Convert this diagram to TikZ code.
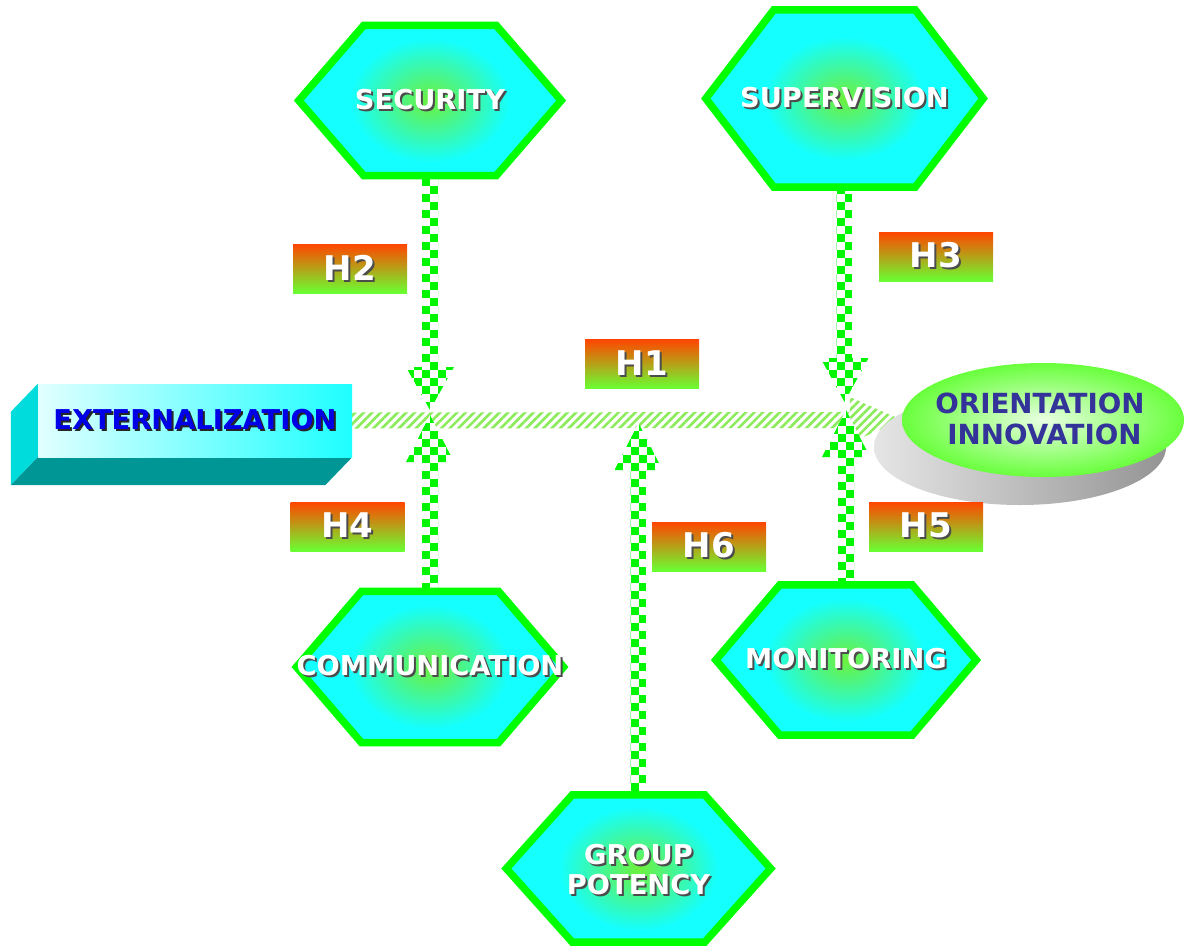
\documentclass[tikz,border=0pt]{standalone}
\usepackage{fontspec}
\setmainfont{DejaVu Sans}
\usetikzlibrary{calc,patterns,patterns.meta,shapes.geometric}
\definecolor{hexline}{RGB}{0,255,0}
\definecolor{hexcyan}{RGB}{20,255,255}
\definecolor{hexcore}{RGB}{110,240,60}
\definecolor{hred}{RGB}{255,70,0}
\definecolor{hgreen}{RGB}{105,255,50}
\definecolor{chkgreen}{RGB}{0,245,0}
\definecolor{stripegreen}{RGB}{140,235,90}
\definecolor{extblue}{RGB}{0,0,230}
\definecolor{extcyan}{RGB}{30,255,255}
\definecolor{extlight}{RGB}{225,255,255}
\definecolor{extside}{RGB}{0,220,220}
\definecolor{extbottom}{RGB}{0,150,150}
\definecolor{oritext}{RGB}{51,51,153}
\definecolor{origreen}{RGB}{105,255,60}

\pgfdeclarelayer{bglayer}
\pgfdeclarelayer{arrowlayer}
\pgfdeclarelayer{shapelayer}
\pgfsetlayers{bglayer,arrowlayer,shapelayer,main}

\newcommand{\shd}[2][black!70]{\leavevmode\rlap{\kern2pt\raisebox{-2pt}{\textcolor{#1}{#2}}}#2}

\newcommand{\hexagonal}[2]{%
  \path[fill=hexcyan] (#1.west) -- ($(#1.north west)+(#2,0)$) -- ($(#1.north east)+(-#2,0)$) -- (#1.east)
    -- ($(#1.south east)+(-#2,0)$) -- ($(#1.south west)+(#2,0)$) -- cycle;
  \shade[inner color=hexcore, outer color=hexcyan] (#1.center) ellipse [x radius=80pt, y radius=62pt];
  \path[hexshape] (#1.west) -- ($(#1.north west)+(#2,0)$) -- ($(#1.north east)+(-#2,0)$) -- (#1.east)
    -- ($(#1.south east)+(-#2,0)$) -- ($(#1.south west)+(#2,0)$) -- cycle;}

\newcommand{\chkarrow}[3]{%
  \begin{scope}
    \path[clip] ($(#1)+(-8,0)$) -- ($(#2)+(-8,#3)$) -- ($(#2)+(-24,#3)$) -- (#2)
      -- ($(#2)+(24,#3)$) -- ($(#2)+(8,#3)$) -- ($(#1)+(8,0)$) -- cycle;
    \fill[white] ($(#2)+(-30,-420)$) rectangle ($(#2)+(30,420)$);
    \foreach \cc in {-3,...,2}{
      \foreach \kk in {-52,...,52}{
        \pgfmathtruncatemacro\chkpar{mod(\cc+\kk+200,2)}
        \ifnum\chkpar=0
          \fill[chkgreen] ($(#2)+(8*\cc,8*\kk)$) rectangle ++(8,8);
        \fi
      }}
  \end{scope}}

\tikzset{
  hexnode/.style={inner sep=0, text=white, align=center, font=\bfseries\fontsize{27.3}{30}\selectfont},
  hexshape/.style={draw=hexline, line width=7.5pt, line join=miter},
  hbox/.style={minimum width=114, minimum height=49, inner sep=0, top color=hred, bottom color=hgreen,
    text=white, font=\bfseries\fontsize{34}{40}\selectfont},
  stripes/.style={pattern={Lines[angle=45,distance=6pt,line width=2.6pt]}, pattern color=stripegreen},
  extbox/.style={minimum width=314, minimum height=73, inner sep=0, left color=extlight, right color=extcyan,
    text=extblue, font=\bfseries\fontsize{27.3}{30}\selectfont},
  orinode/.style={ellipse, minimum width=282, minimum height=114, inner sep=0, shading=radial,
    inner color=white!85!origreen, outer color=origreen},
}

\begin{document}
\begin{tikzpicture}[x=1pt,y=-1pt]
\begin{pgfonlayer}{bglayer}
\fill[white] (0,0) rectangle (1187,946);
\end{pgfonlayer}
\useasboundingbox (0,0) rectangle (1187,946);

% hexagon nodes
\node[hexnode, minimum width=262, minimum height=150] (sec) at (430,100.5) {\shd{SECURITY}};
\node[hexnode, minimum width=277, minimum height=177] (sup) at (844.5,98.5) {\shd{SUPERVISION}};
\node[hexnode, minimum width=262, minimum height=151] (com) at (430,667) {\shd{COMMUNICATION}};
\node[hexnode, minimum width=260, minimum height=150] (mon) at (846,660) {\shd{MONITORING}};
\node[hexnode, minimum width=264, minimum height=147] (grp) at (638.5,868.5) {};
\node[hexnode] (grptxt) at (638.5,871) {\shd{GROUP}\\\shd{POTENCY}};

% externalization and orientation
\node[extbox] (ext) at (195,420.5) {\shd[black!85]{EXTERNALIZATION}};
\node[orinode] (ori) at (1043,420) {};
\node[text=oritext, align=center, inner sep=0, font=\bfseries\fontsize{27.7}{31}\selectfont] (oritxt) at (1040,419) {ORIENTATION\\\hspace*{9pt}INNOVATION};

% H labels
\node[hbox] (h1) at (642,364) {\shd{H1}};
\node[hbox] (h2) at (350,268.5) {\shd{H2}};
\node[hbox] (h3) at (936,256.5) {\shd{H3}};
\node[hbox] (h4) at (347.5,526.5) {\shd{H4}};
\node[hbox] (h5) at (926,526.5) {\shd{H5}};
\node[hbox] (h6) at (709,546.5) {\shd{H6}};

% tips
\coordinate (tsec) at (430,410);
\coordinate (tsup) at (844.5,402);
\coordinate (tcom) at (430,415);
\coordinate (tmon) at (846,410);
\coordinate (tgrp) at (638.5,423);

\begin{pgfonlayer}{shapelayer}
  \hexagonal{sec}{65}
  \hexagonal{sup}{68}
  \hexagonal{com}{65}
  \hexagonal{mon}{64}
  \hexagonal{grp}{66}
  \fill[extside] (ext.north west) -- (ext.south west) -- ($(ext.south west)+(-27,28)$) -- ($(ext.north west)+(-27,28)$) -- cycle;
  \fill[extbottom] (ext.south west) -- (ext.south east) -- ($(ext.south east)+(-27,28)$) -- ($(ext.south west)+(-27,28)$) -- cycle;
  \shade[left color=black!10, right color=black!42] (1020,447) ellipse [x radius=146pt, y radius=58pt];
\end{pgfonlayer}

\begin{pgfonlayer}{arrowlayer}
  \path[stripes] ($(ext.east)+(0,-8)$) -- ($(ori.west)+(-52,-8)$) -- ($(ori.west)+(-52,-23)$) -- (ori.west)
    -- ($(ori.west)+(-52,23)$) -- ($(ori.west)+(-52,8)$) -- ($(ext.east)+(0,8)$) -- cycle;
  \chkarrow{sec.south}{tsec}{-43}
  \chkarrow{sup.south}{tsup}{-44}
  \chkarrow{com.north}{tcom}{47}
  \chkarrow{mon.north}{tmon}{47}
  \chkarrow{grp.north}{tgrp}{47}
\end{pgfonlayer}
\end{tikzpicture}
\end{document}
